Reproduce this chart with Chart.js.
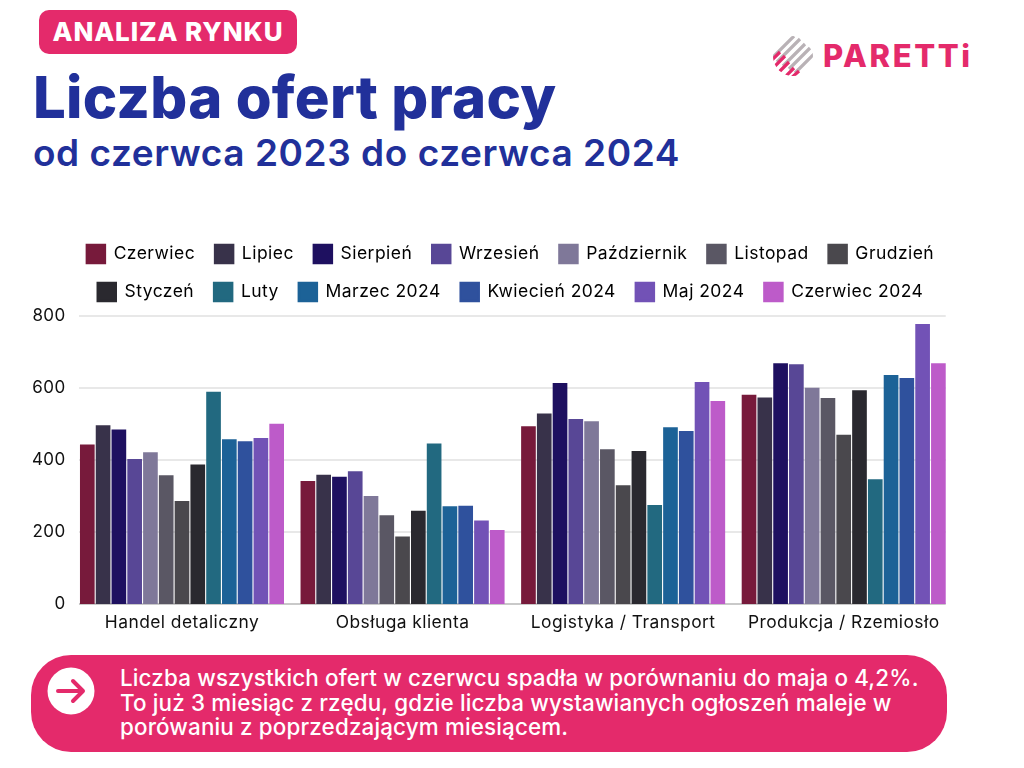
<!DOCTYPE html>
<html lang="pl"><head><meta charset="utf-8">
<script src="https://cdn.jsdelivr.net/npm/chart.js@4"></script>
<style>
html,body{margin:0;padding:0;background:#fff;width:1024px;height:768px;overflow:hidden;font-family:Inter,sans-serif}
.a{position:absolute;white-space:nowrap}
#badge{left:39px;top:10px;width:258px;height:44px;background:#E42A6B;border-radius:10px;color:#fff;font-weight:800;font-size:26px;line-height:44px;text-align:center;letter-spacing:.9px}
#title{left:33px;top:62px;font-size:58px;font-weight:800;color:#21309A;line-height:70px;letter-spacing:.3px}
#sub{left:33px;top:130px;font-size:37px;font-weight:600;color:#21309A;line-height:46px;letter-spacing:.55px}
#logoT{left:823px;top:38px;font-size:31px;font-weight:800;color:#E42A6B;line-height:36px;letter-spacing:2.6px}
#logo{left:772px;top:36px}
#callout{left:31px;top:655px;width:916px;height:97px;background:#E42A6B;border-radius:40px}
#txt{left:120px;top:666px;color:#fff;font-size:22.4px;font-weight:500;line-height:24.5px;letter-spacing:.15px}
#arrow{left:47px;top:667px}
canvas{position:absolute;left:30px;top:225px}
</style></head><body>
<div class="a" id="badge">ANALIZA RYNKU</div>
<div class="a" id="title">Liczba ofert pracy</div>
<div class="a" id="sub">od czerwca 2023 do czerwca 2024</div>
<svg class="a" id="logo" width="44" height="44" viewBox="0 0 44 44">
<defs><clipPath id="c"><circle cx="21" cy="20" r="20"/></clipPath></defs>
<g clip-path="url(#c)" stroke-width="3.2">
<g stroke="#B9B2B6"><path d="M0 22L22 0M5 26L28 3M11 30L33 8M17 33L38 12M23 37L44 16"/></g>
<g stroke="#E42A6B"><path d="M-2 26L8 16M0 33L13 20M5 38L17 26M10 44L22 32M17 44L27 35"/></g>
</g></svg>
<div class="a" id="logoT">PARETTi</div>
<canvas id="chart" width="960" height="416"></canvas>
<div class="a" id="callout"></div>
<svg class="a" id="arrow" width="48" height="48" viewBox="0 0 48 48"><circle cx="24" cy="24" r="23.5" fill="#fff"/><path d="M11 24H35M26 14L36 24L26 34" fill="none" stroke="#E42A6B" stroke-width="4" stroke-linecap="round" stroke-linejoin="round"/></svg>
<div class="a" id="txt">Liczba wszystkich ofert w czerwcu spadła w porównaniu do maja o 4,2%.<br>To już 3 miesiąc z rzędu, gdzie liczba wystawianych ogłoszeń maleje w<br>porówaniu z poprzedzającym miesiącem.</div>
<script>
const categories=["Handel detaliczny","Obsługa klienta","Logistyka / Transport","Produkcja / Rzemiosło"];
const czerwiec=[443,342,494,581];
const lipiec=[497,359,529,574];
const sierpien=[485,354,614,669];
const wrzesien=[403,369,514,666];
const pazdziernik=[422,300,508,601];
const listopad=[358,247,430,572];
const grudzien=[286,188,330,470];
const styczen=[388,259,425,594];
const luty=[590,446,275,347];
const marzec2024=[458,272,491,636];
const kwiecien2024=[452,273,481,628];
const maj2024=[461,232,617,778];
const czerwiec2024=[501,206,564,669];
const yTicks=[0,200,400,600,800];
const seriesNames=["Czerwiec","Lipiec","Sierpień","Wrzesień","Październik","Listopad","Grudzień","Styczeń","Luty","Marzec 2024","Kwiecień 2024","Maj 2024","Czerwiec 2024"];
const seriesValues=[czerwiec,lipiec,sierpien,wrzesien,pazdziernik,listopad,grudzien,styczen,luty,marzec2024,kwiecien2024,maj2024,czerwiec2024];
const seriesColors=["#771A3B","#38324A","#1E1060","#584796","#7F7899","#5A5764","#4A484D","#2A292F","#226980","#1C6297","#2F519D","#7252B6","#BD5BC9"];
const spacing={id:'spacing',
  beforeUpdate(c){c.ctx.letterSpacing='0.45px';
    if(c.legend&&!c.legend._patched){
      const f=c.legend.fit,d=c.legend.draw;
      c.legend.fit=function(){f.call(this);this.height+=5};
      c.legend.draw=function(){c.ctx.save();c.ctx.translate(18.5,0);d.call(this);c.ctx.restore()};
      c.legend._patched=true}},
  beforeDraw(c){c.ctx.letterSpacing='0.45px'}};
const grid={id:'gridSpan',beforeDatasetsDraw(c){
  const y=c.scales.y,ctx=c.ctx;
  const first=c.getDatasetMeta(0).data[0],last=c.getDatasetMeta(c.data.datasets.length-1).data[3];
  const l=first.x-first.width/2-1,r=last.x+last.width/2;
  ctx.save();
  yTicks.forEach(t=>{
    ctx.strokeStyle=t===0?'#C9C9C9':'#E8E8E8';ctx.lineWidth=2;
    const p=y.getPixelForValue(t);
    ctx.beginPath();ctx.moveTo(l,p);ctx.lineTo(r,p);ctx.stroke();
  });
  ctx.restore();
}};
new Chart(document.getElementById('chart'),{
  type:'bar',
  data:{labels:categories,datasets:seriesNames.map((n,i)=>({label:n,data:seriesValues[i],backgroundColor:seriesColors[i],borderWidth:0,categoryPercentage:0.93,barPercentage:0.93}))},
  plugins:[spacing,grid],
  options:{
    responsive:false,animation:false,
    layout:{padding:{right:36,top:0,bottom:0,left:0}},
    plugins:{
      tooltip:{enabled:false},
      legend:{display:true,position:'top',align:'center',
        labels:{boxWidth:18,boxHeight:18,padding:20,color:'#111',font:{family:'Inter',size:17.5},
          generateLabels(c){return c.data.datasets.map((d,i)=>({text:d.label,fillStyle:d.backgroundColor,strokeStyle:d.backgroundColor,lineWidth:2.5,datasetIndex:i,hidden:false}))}
        }}
    },
    scales:{
      x:{grid:{display:false,drawTicks:false},border:{display:false},ticks:{color:'#111',font:{family:'Inter',size:17.4},padding:8,maxRotation:0,autoSkip:false}},
      y:{min:0,max:800,afterFit(s){s.width=41.7},afterBuildTicks(s){s.ticks=yTicks.map(v=>({value:v}))},grid:{display:false,drawTicks:false},border:{display:false},ticks:{color:'#111',font:{family:'Inter',size:17},padding:6}}
    }
  }
});
</script>
</body></html>
